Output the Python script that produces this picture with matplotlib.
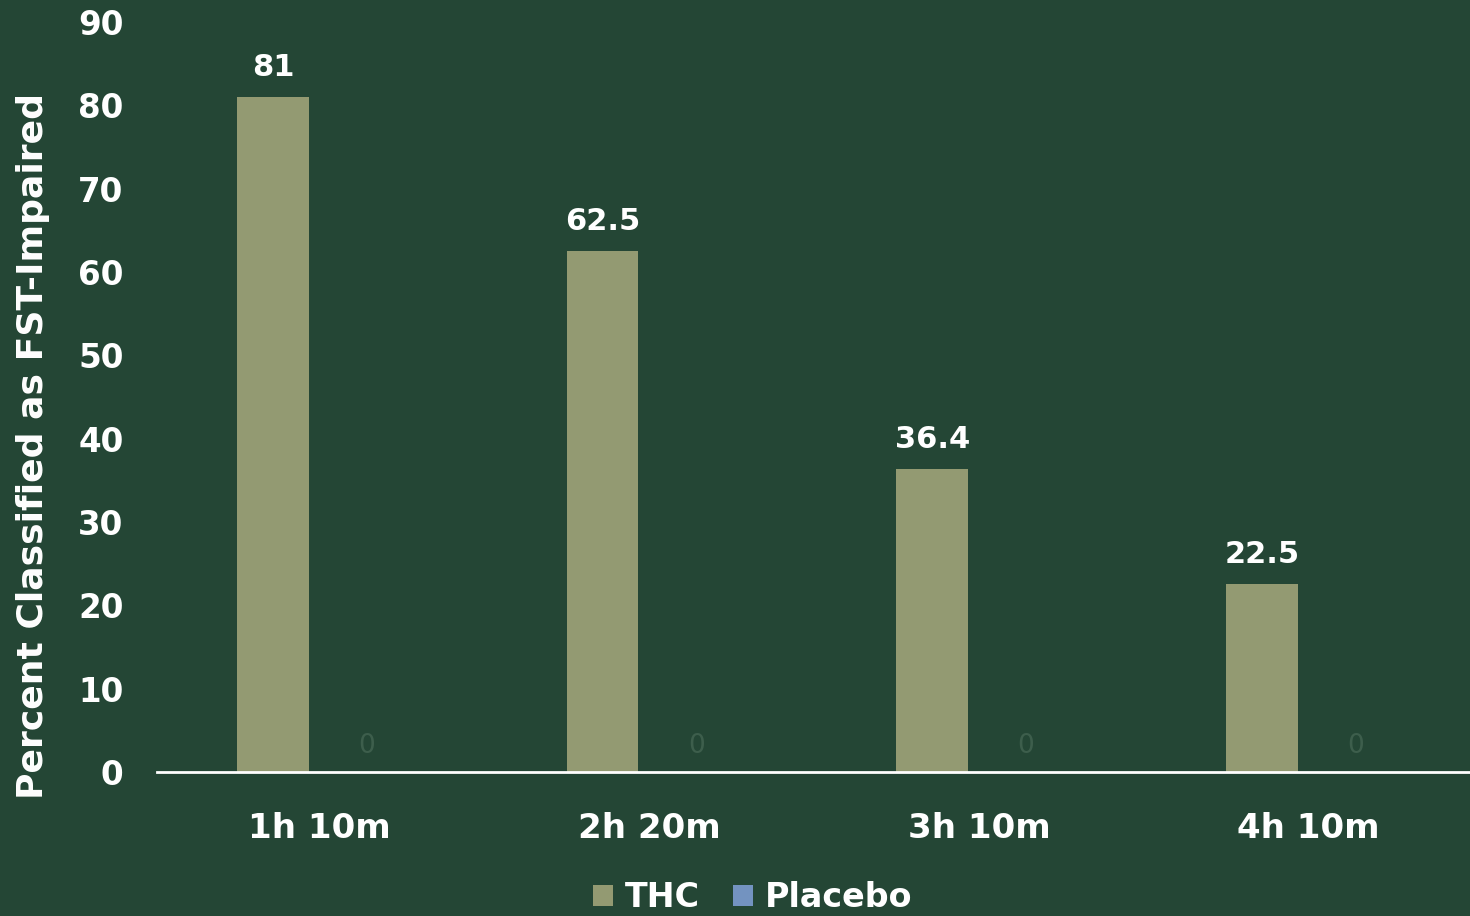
import matplotlib
matplotlib.use("Agg")
import matplotlib.pyplot as plt
import numpy as np

categories = ["1h 10m", "2h 20m", "3h 10m", "4h 10m"]
thc = [81, 62.5, 36.4, 22.5]
placebo = [0, 0, 0, 0]
yticks = [0, 10, 20, 30, 40, 50, 60, 70, 80, 90]

BG = "#244635"
THC_C = "#939A72"
PLA_C = "#7393C0"
FAINT = "#3D5E4C"

plt.rcParams['font.family'] = ['DejaVu Sans']

fig = plt.figure(figsize=(14.7, 9.16), dpi=100, facecolor=BG)
ax = fig.add_axes([0.1068, 0.1572, 0.8932, 0.8188], facecolor=BG)

x = np.arange(len(categories))
w = 0.218
off = 0.142
b1 = ax.bar(x - off, thc, w, color=THC_C, label="THC")
b2 = ax.bar(x + off, placebo, w, color=PLA_C, label="Placebo")

for xi, v in zip(x - off, thc):
    ax.text(xi, v + 1.8, f"{v:g}", ha="center", va="bottom", color="white",
            fontsize=22, fontweight="bold")
for xi, v in zip(x + off, placebo):
    ax.text(xi, v + 1.6, f"{v:g}", ha="center", va="bottom", color=FAINT,
            fontsize=19)

ax.set_xlim(-0.494, 3.49)
ax.set_ylim(0, 90)
ax.set_yticks(yticks)
ax.set_yticklabels([str(t) for t in yticks])
ax.set_xticks(x)
ax.set_xticklabels(categories)
ax.tick_params(axis='y', length=0, pad=24, labelsize=23.5, labelcolor="white")
ax.tick_params(axis='x', length=0, pad=28.5, labelsize=24.5, labelcolor="white")
for lbl in ax.get_xticklabels() + ax.get_yticklabels():
    lbl.set_fontweight("bold")
for s in ["top", "right", "left"]:
    ax.spines[s].set_visible(False)
ax.spines["bottom"].set_color("white")
ax.spines["bottom"].set_linewidth(2)

fig.text(33 / 1470, 1 - 446 / 916, "Percent Classified as FST-Impaired",
         rotation=90, ha="center", va="center", color="white", fontsize=26,
         fontweight="bold")

leg = fig.legend(handles=[b1, b2], labels=["THC", "Placebo"], loc="center",
                 bbox_to_anchor=(0.512, 0.02), ncol=2, frameon=False,
                 fontsize=24, handlelength=0.6, handleheight=0.6,
                 handletextpad=0.35, columnspacing=1.0)
for t in leg.get_texts():
    t.set_color("white")
    t.set_fontweight("bold")

fig.savefig("out.png", dpi=100, facecolor=BG)
